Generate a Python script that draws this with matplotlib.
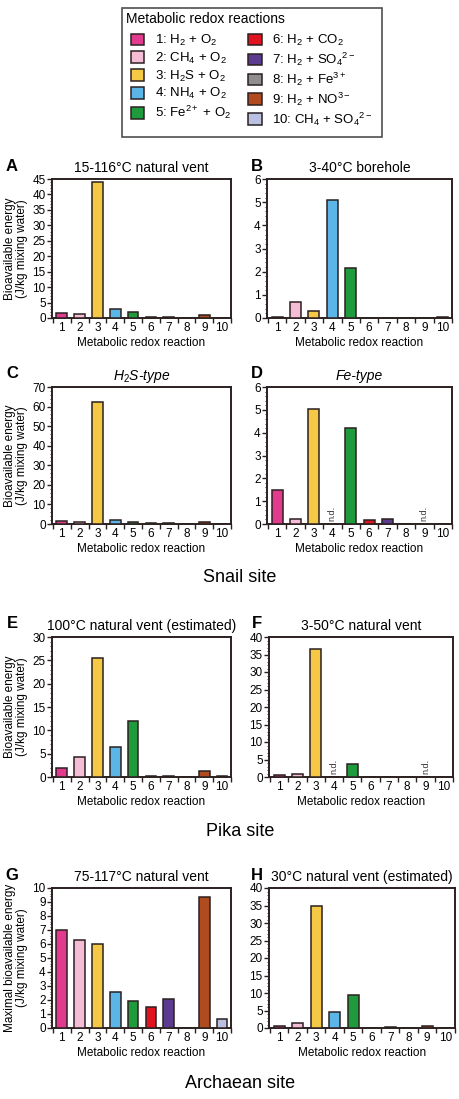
import matplotlib
matplotlib.use("Agg")
import matplotlib.pyplot as plt
from matplotlib.patches import Patch
from matplotlib.ticker import MultipleLocator, FixedLocator, NullFormatter, FixedFormatter
import numpy as np

plt.rcParams['font.family'] = ['Liberation Sans', 'DejaVu Sans']
plt.rcParams['mathtext.fontset'] = 'custom'
plt.rcParams['mathtext.rm'] = 'Liberation Sans'
plt.rcParams['mathtext.it'] = 'Liberation Sans:italic'
plt.rcParams['mathtext.default'] = 'regular'

# reactions 1..10
reactions = np.arange(1, 11)
colors = ['#E23A8C', '#F5BCD6', '#F5C945', '#5BB5E6', '#1F9A3D',
          '#E0131F', '#5B3B8F', '#8E8E8E', '#B04A1F', '#BAC0E2']
legend_labels = [r'1: H$_2$ + O$_2$', r'2: CH$_4$ + O$_2$', r'3: H$_2$S + O$_2$',
                 r'4: NH$_4$ + O$_2$', r'5: Fe$^{2+}$ + O$_2$',
                 r'6: H$_2$ + CO$_2$', r'7: H$_2$ + SO$_4$$^{2-}$', r'8: H$_2$ + Fe$^{3+}$',
                 r'9: H$_2$ + NO$^{3-}$', r'10: CH$_4$ + SO$_4$$^{2-}$']

# energy values (J/kg mixing water); None = n.d.
vals_A = [1.5, 1.2, 44.0, 2.8, 1.8, 0.2, 0.3, 0.05, 1.0, 0.1]
vals_B = [0.03, 0.7, 0.32, 5.1, 2.15, 0.0, 0.02, 0.0, 0.02, 0.05]
vals_C = [1.5, 1.2, 62.5, 2.0, 0.8, 0.3, 0.3, 0.0, 1.0, 0.2]
vals_D = [1.48, 0.2, 5.05, None, 4.2, 0.18, 0.22, 0.0, None, 0.02]
vals_E = [1.9, 4.3, 25.5, 6.5, 12.1, 0.3, 0.3, 0.0, 1.3, 0.2]
vals_F = [0.5, 1.0, 36.5, None, 3.8, 0.1, 0.1, 0.0, None, 0.05]
vals_G = [7.0, 6.3, 6.0, 2.6, 1.95, 1.5, 2.1, 0.0, 9.35, 0.65]
vals_H = [0.7, 1.3, 35.0, 4.5, 9.5, 0.1, 0.2, 0.0, 0.5, 0.1]

W, H = 459, 1099
fig = plt.figure(figsize=(W / 100, H / 100), dpi=100)

ink = '#2b2020'

def px_axes(x0, x1, y0, y1):
    return fig.add_axes([x0 / W, 1 - y1 / H, (x1 - x0) / W, (y1 - y0) / H])

def panel(rect, vals, ymax, major, minor, title, letter, letter_x, ylabel=None, italic=False):
    ax = px_axes(*rect)
    heights = [0 if v is None else v for v in vals]
    ax.bar(reactions, heights, width=0.6, color=colors, edgecolor=ink, linewidth=1.1, zorder=3)
    for r, v in zip(reactions, vals):
        if v is None:
            ax.text(r, ymax * 0.02, 'n.d.', rotation=90, fontsize=6.5, ha='center', va='bottom', color='#333333')
    ax.set_xlim(0.45, 10.5)
    ax.set_ylim(0, ymax)
    ax.xaxis.set_major_locator(FixedLocator(np.arange(0.5, 11, 1)))
    ax.xaxis.set_major_formatter(NullFormatter())
    ax.xaxis.set_minor_locator(FixedLocator(reactions))
    ax.xaxis.set_minor_formatter(FixedFormatter([str(r) for r in reactions]))
    ax.yaxis.set_major_locator(MultipleLocator(major))
    ax.yaxis.set_minor_locator(MultipleLocator(minor))
    ax.tick_params(axis='x', which='major', direction='out', length=3.5, width=1, color=ink)
    ax.tick_params(axis='x', which='minor', length=0, labelsize=8.5, pad=3)
    ax.tick_params(axis='y', which='major', direction='out', length=3.5, width=1, color=ink, labelsize=8.5, pad=1)
    ax.tick_params(axis='y', which='minor', direction='out', length=1.8, width=0.6, color=ink)
    for s in ax.spines.values():
        s.set_linewidth(1.4)
        s.set_color(ink)
    ax.set_xlabel('Metabolic redox reaction', fontsize=8.5, labelpad=2)
    if ylabel:
        ax.set_ylabel(ylabel, fontsize=8.5, labelpad=3, linespacing=1.0)
    ax.set_title(title, fontsize=10, pad=5, style='italic' if italic else 'normal')
    x0, x1, y0, y1 = rect
    fig.text(letter_x / W, 1 - (y0 - 13) / H, letter, fontsize=12, fontweight='bold', ha='center', va='center')
    return ax

ylab = 'Bioavailable energy\n(J/kg mixing water)'
panel((52, 231, 179, 318), vals_A, 45, 5, 1, '15-116°C natural vent', 'A', 12, ylab)
panel((267, 452, 179, 318), vals_B, 6, 1, 0.2, '3-40°C borehole', 'B', 257)
panel((52, 231, 387, 524), vals_C, 70, 10, 2, r'$\mathit{H_2S}$-type', 'C', 12, ylab, italic=True)
panel((267, 452, 387, 524), vals_D, 6, 1, 0.2, 'Fe-type', 'D', 257, italic=True)
panel((52, 231, 637, 777), vals_E, 30, 5, 1, '100°C natural vent (estimated)', 'E', 12, ylab)
panel((269, 453, 637, 777), vals_F, 40, 5, 1, '3-50°C natural vent', 'F', 257)
panel((52, 231, 888, 1028), vals_G, 10, 1, 0.2, '75-117°C natural vent', 'G', 12,
      'Maximal bioavailable energy\n(J/kg mixing water)')
panel((269, 455, 888, 1028), vals_H, 40, 5, 1, '30°C natural vent (estimated)', 'H', 257)

for label, y in [('Snail site', 578), ('Pika site', 832), ('Archaean site', 1083)]:
    fig.text(240 / W, 1 - y / H, label, fontsize=13, ha='center', va='center')

handles = [Patch(facecolor=c, edgecolor=ink, linewidth=1.1) for c in colors]
leg = fig.legend(handles, legend_labels, ncol=2, title='Metabolic redox reactions',
                 loc='upper center', bbox_to_anchor=(252 / W, 1 - 1 / H),
                 fontsize=9.5, title_fontsize=10, frameon=True, fancybox=False,
                 handlelength=1.0, handleheight=1.0, handletextpad=0.8,
                 columnspacing=1.3, labelspacing=0.2, borderpad=0.3)
leg.get_frame().set_edgecolor('#222222')
leg.get_frame().set_linewidth(1.2)
leg._legend_box.align = 'left'
leg._legend_handle_box.pad = 3.5

fig.savefig('out.png', dpi=100)
